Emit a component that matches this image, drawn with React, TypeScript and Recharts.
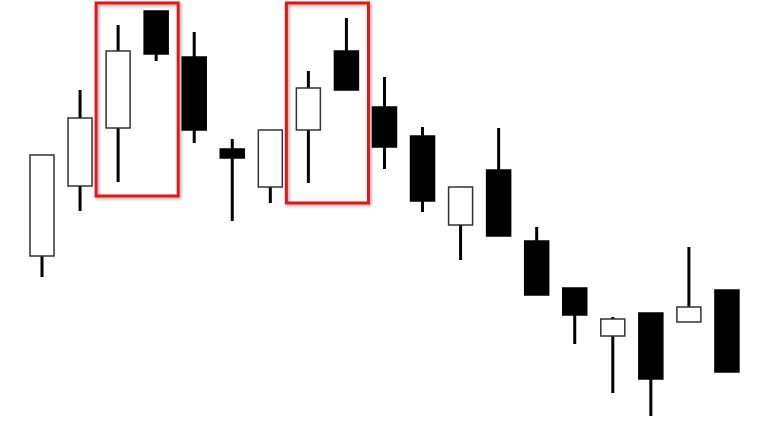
import React from "react";
import { ComposedChart, Bar, XAxis, YAxis, ReferenceArea } from "recharts";

const categories = ["1","2","3","4","5","6","7","8","9","10","11","12","13","14","15","16","17","18","19"];
const opens  = [42, 59.5, 74, 103.25, 91.75, 68.75, 59.25, 73.5, 93.25, 79.25, 72, 49.75, 63.5, 45.75, 34, 22, 27.75, 25.5, 33.5];
const highs  = [67.25, 83.5, 99.75, 103.25, 98, 71.25, 73.5, 88.25, 101.5, 86.75, 74.25, 59.25, 74, 49.25, 34, 26.75, 27.75, 44.25, 33.5];
const lows   = [36.75, 53.25, 60.5, 90.75, 70.25, 50.75, 55.25, 60.25, 83.5, 63.75, 53, 41, 47, 32.25, 20, 7.75, 2, 25.5, 13];
const closes = [67.25, 76.5, 93.25, 92.5, 73.5, 66.5, 73.5, 84, 83.5, 69.25, 55.75, 59.25, 47, 32.25, 27.25, 26.25, 11.25, 29.25, 13];

const highlights = [
  { from: "3", to: "4", top: 105.25, bottom: 57 },
  { from: "8", to: "9", top: 105.25, bottom: 55.25 },
];

const data = categories.map((c, i) => ({
  name: c,
  open: opens[i],
  high: highs[i],
  low: lows[i],
  close: closes[i],
  range: [lows[i], highs[i]],
}));

const Candle = (props: any) => {
  const { x, y, width, height, payload } = props;
  if (!payload) return null;
  const { open, close, high, low } = payload;
  const span = high - low || 1;
  const toY = (v: number) => y + ((high - v) / span) * height;
  const cx = x + width / 2;
  const bodyTop = toY(Math.max(open, close));
  const bodyBot = toY(Math.min(open, close));
  const up = close >= open;
  return (
    <g>
      <line x1={cx} x2={cx} y1={y} y2={y + height} stroke="#000" strokeWidth={3} />
      <rect
        x={x}
        y={bodyTop}
        width={width}
        height={Math.max(bodyBot - bodyTop, 1)}
        fill={up ? "#fff" : "#000"}
        stroke={up ? "#333" : "#000"}
        strokeWidth={1.5}
      />
    </g>
  );
};

const Highlight = (props: any) => {
  const { x, y, width, height } = props;
  return (
    <rect
      x={x - 3}
      y={y}
      width={width + 6}
      height={height}
      fill="none"
      stroke="#e3171b"
      strokeWidth={3}
      filter="url(#boxShadow)"
    />
  );
};

export default function App() {
  return (
    <div style={{ position: "absolute", left: 0, top: 0, width: 768, height: 424, background: "#fff" }}>
      <ComposedChart width={768} height={424} data={data} margin={{ top: 0, right: 22, bottom: 0, left: 23 }}>
        <defs>
          <filter id="boxShadow" x="-10%" y="-10%" width="130%" height="130%">
            <feDropShadow dx="1.5" dy="1.5" stdDeviation="1.5" floodColor="#000" floodOpacity="0.35" />
          </filter>
        </defs>
        <XAxis dataKey="name" hide />
        <YAxis domain={[0, 106]} hide />
        {highlights.map((h, i) => (
          <ReferenceArea key={i} x1={h.from} x2={h.to} y1={h.bottom} y2={h.top} shape={<Highlight />} ifOverflow="visible" />
        ))}
        <Bar dataKey="range" barSize={24} shape={<Candle />} isAnimationActive={false} />
      </ComposedChart>
    </div>
  );
}
